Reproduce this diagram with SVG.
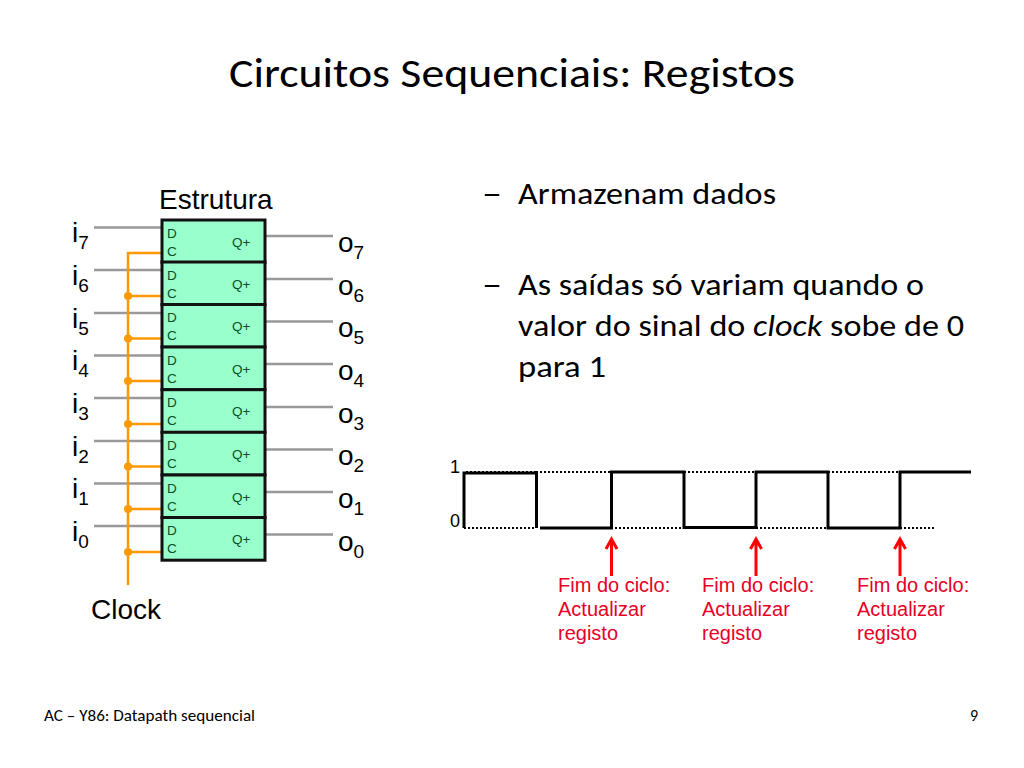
<svg xmlns="http://www.w3.org/2000/svg" xmlns:xlink="http://www.w3.org/1999/xlink" width="1024" height="768" viewBox="0 0 1024 768">
<style>
.cal{font-family:Carlito,Lato,"Open Sans",sans-serif;fill:#000}
.ar{font-family:"Liberation Sans",Arial,sans-serif;fill:#000}
.big{font-size:28px}
.sub{font-size:19px}
.reg{fill:#99ffcc;stroke:#111;stroke-width:3}
.pin{font-family:"Liberation Sans",Arial,sans-serif;font-size:13.500px;fill:#04502c}
.gray{stroke:#999;stroke-width:2.500;fill:none}
.clk{stroke:#f90;stroke-width:2.500;fill:none}
.dot{fill:#f90}
.wave{stroke:#000;stroke-width:3;fill:none}
.dots{stroke:#000;stroke-width:2;stroke-dasharray:2 2;fill:none}
.red{stroke:#f00;stroke-width:3;fill:none}
.rt{font-family:"Liberation Sans",Arial,sans-serif;font-size:20px;fill:#e60026}
</style>
<defs>
<g id="cell"><rect class="reg" x="162" y="0" width="103" height="42.700"/><text class="pin" x="167" y="17.500">D</text><text class="pin" x="167" y="35.500">C</text><text class="pin" x="232" y="26.500">Q+</text></g>
</defs>
<text id="title" class="cal" x="229" y="87" font-size="41" textLength="566" lengthAdjust="spacingAndGlyphs">Circuitos Sequenciais: Registos</text>
<text id="estrutura" class="ar big" x="159" y="209">Estrutura</text>
<g id="connectors">
<path class="gray" d="M94 227.500H162M94 270H162M94 313H162M94 355.500H162M94 398H162M94 441H162M94 483.500H162M94 526H162"/>
<path class="gray" d="M265 236H333M265 279H333M265 321.500H333M265 364H333M265 407H333M265 449.500H333M265 492H333M265 534.500H333"/>
<path class="clk" d="M128 585V253H162M128 296H162M128 338.500H162M128 381H162M128 424H162M128 466.500H162M128 509H162M128 552H162"/>
<circle class="dot" cx="128" cy="296" r="4"/><circle class="dot" cx="128" cy="338.500" r="4"/><circle class="dot" cx="128" cy="381" r="4"/><circle class="dot" cx="128" cy="424" r="4"/><circle class="dot" cx="128" cy="466.500" r="4"/><circle class="dot" cx="128" cy="509" r="4"/><circle class="dot" cx="128" cy="552" r="4"/>
</g>
<g id="reg7"><use xlink:href="#cell" y="220"/></g>
<g id="reg6"><use xlink:href="#cell" y="262"/></g>
<g id="reg5"><use xlink:href="#cell" y="304.500"/></g>
<g id="reg4"><use xlink:href="#cell" y="347"/></g>
<g id="reg3"><use xlink:href="#cell" y="389.700"/></g>
<g id="reg2"><use xlink:href="#cell" y="432.300"/></g>
<g id="reg1"><use xlink:href="#cell" y="475"/></g>
<g id="reg0"><use xlink:href="#cell" y="517.500"/></g>
<g id="inputs" class="ar big">
<text x="72" y="242">i<tspan class="sub" dy="7">7</tspan></text>
<text x="72" y="285">i<tspan class="sub" dy="7">6</tspan></text>
<text x="72" y="328">i<tspan class="sub" dy="7">5</tspan></text>
<text x="72" y="370">i<tspan class="sub" dy="7">4</tspan></text>
<text x="72" y="413">i<tspan class="sub" dy="7">3</tspan></text>
<text x="72" y="456">i<tspan class="sub" dy="7">2</tspan></text>
<text x="72" y="498">i<tspan class="sub" dy="7">1</tspan></text>
<text x="72" y="541">i<tspan class="sub" dy="7">0</tspan></text>
</g>
<g id="outputs" class="ar big">
<text x="338" y="252">o<tspan class="sub" dy="7">7</tspan></text>
<text x="338" y="295">o<tspan class="sub" dy="7">6</tspan></text>
<text x="338" y="337">o<tspan class="sub" dy="7">5</tspan></text>
<text x="338" y="380">o<tspan class="sub" dy="7">4</tspan></text>
<text x="338" y="423">o<tspan class="sub" dy="7">3</tspan></text>
<text x="338" y="465">o<tspan class="sub" dy="7">2</tspan></text>
<text x="338" y="508">o<tspan class="sub" dy="7">1</tspan></text>
<text x="338" y="551">o<tspan class="sub" dy="7">0</tspan></text>
</g>
<text id="clock" class="ar big" x="91" y="619">Clock</text>
<g id="bullets" class="cal" font-size="30">
<text x="482" y="204" textLength="20" lengthAdjust="spacingAndGlyphs">–</text>
<text x="518" y="204" textLength="258" lengthAdjust="spacingAndGlyphs">Armazenam dados</text>
<text x="482" y="295" textLength="20" lengthAdjust="spacingAndGlyphs">–</text>
<text x="518" y="295" textLength="406" lengthAdjust="spacingAndGlyphs">As saídas só variam quando o</text>
<text x="518" y="336" textLength="446" lengthAdjust="spacingAndGlyphs">valor do sinal do <tspan font-style="italic">clock</tspan> sobe de 0</text>
<text x="518" y="377" textLength="88" lengthAdjust="spacingAndGlyphs">para 1</text>
</g>
<g id="waveform">
<text class="ar" font-size="18" x="450" y="473">1</text>
<text class="ar" font-size="18" x="450" y="527">0</text>
<path class="dots" d="M466 472H536M536 472H611M684 472H756M828 472H900M464 528H536M611 528H684M756 528H828M900 528H936"/>
<path class="wave" d="M464 528V473H536.500V528M540 528H611.500V472H684V527.500H756V472H828V528H900V472H971"/>
</g>
<g id="note1"><path class="red" d="M611.500 576V539M606 549L611.500 539L617 549"/><text class="rt" x="558" y="592">Fim do ciclo:</text><text class="rt" x="558" y="616">Actualizar</text><text class="rt" x="558" y="640">registo</text></g>
<g id="note2"><path class="red" d="M756 576V539M750.500 549L756 539L761.500 549"/><text class="rt" x="702" y="592">Fim do ciclo:</text><text class="rt" x="702" y="616">Actualizar</text><text class="rt" x="702" y="640">registo</text></g>
<g id="note3"><path class="red" d="M900 576V539M894.500 549L900 539L905.500 549"/><text class="rt" x="857" y="592">Fim do ciclo:</text><text class="rt" x="857" y="616">Actualizar</text><text class="rt" x="857" y="640">registo</text></g>
<text id="footer" class="cal" font-size="16" x="44" y="721" textLength="211" lengthAdjust="spacingAndGlyphs">AC – Y86: Datapath sequencial</text>
<text id="page" class="cal" font-size="16" x="970" y="721">9</text>
</svg>
